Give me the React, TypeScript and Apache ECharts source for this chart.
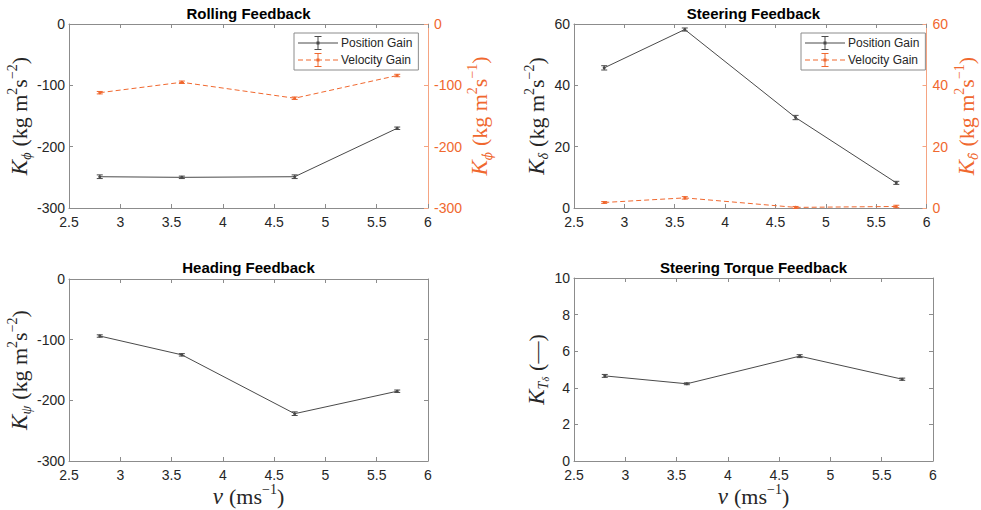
import React, { useEffect, useRef } from 'react';
import * as echarts from 'echarts';

// ---------- data ----------
const speeds = [2.8, 3.6, 4.7, 5.7];

const rollingPosition = [-249, -250, -249, -170];
const rollingPositionErr = [3, 2, 3, 2];
const rollingVelocity = [-112, -95, -121, -84];
const rollingVelocityErr = [2, 2, 2, 2];

const steeringPosition = [45.7, 58.2, 29.5, 8.2];
const steeringPositionErr = [0.7, 0.5, 0.7, 0.5];
const steeringVelocity = [1.8, 3.3, 0.2, 0.5];
const steeringVelocityErr = [0.3, 0.4, 0.3, 0.4];

const headingPosition = [-94, -125, -222, -185];
const headingPositionErr = [2, 2, 3, 2];

const torquePosition = [4.65, 4.22, 5.73, 4.47];
const torquePositionErr = [0.08, 0.05, 0.08, 0.06];

const titles = ['Rolling Feedback', 'Steering Feedback', 'Heading Feedback', 'Steering Torque Feedback'];
const legendNames = ['Position Gain', 'Velocity Gain'];

// ---------- styles ----------
const SANS = "'Liberation Sans', Arial, Helvetica, sans-serif";
const SERIF = "'Liberation Serif', 'DejaVu Serif', 'Times New Roman', serif";
const DSERIF = "'DejaVu Serif', serif";
const DARK = '#262626';
const AXIS = '#8c8c8c';
const POS = '#4a4a4a';
const ORANGE = '#f0682f';
const ORANGE_AXIS = '#f5a482';

const grids = [
  { left: 69, top: 24, width: 359, height: 184 },
  { left: 574, top: 24, width: 359, height: 184 },
  { left: 69, top: 279, width: 359, height: 182 },
  { left: 574, top: 278, width: 359, height: 183 },
];

const richFor = (color: string) => ({
  k: { fontFamily: SERIF, fontStyle: 'italic', fontSize: 23, color, lineHeight: 28 },
  sub: { fontFamily: SERIF, fontStyle: 'italic', fontSize: 14, color, verticalAlign: 'bottom' },
  subd: { fontFamily: DSERIF, fontStyle: 'italic', fontSize: 12, color, verticalAlign: 'bottom' },
  subsub: { fontFamily: SERIF, fontStyle: 'italic', fontSize: 10, color, verticalAlign: 'bottom' },
  r: { fontFamily: SERIF, fontSize: 22, color, lineHeight: 28 },
  sp: { fontFamily: SERIF, fontSize: 22, color, lineHeight: 28, width: 6 },
  sup: { fontFamily: SERIF, fontSize: 14, color, verticalAlign: 'top' },
});

const POS_ICON =
  'path://M0,6.5h40v1h-40z M19.5,0.5h1v13h-1z M16.5,0h7v1h-7z M16.5,13h7v1h-7z M18.5,5.5h3v3h-3z';
const VEL_ICON =
  'path://M0,6.5h5v1h-5z M8,6.5h5v1h-5z M16,6.5h8v1h-8z M27,6.5h5v1h-5z M35,6.5h5v1h-5z M19.5,0.5h1v13h-1z M16.5,0h7v1h-7z M16.5,13h7v1h-7z M18.5,5.5h3v3h-3z';

function xAxes(gi: number, withName: boolean) {
  const base = {
    gridIndex: gi,
    type: 'value',
    min: 2.5,
    max: 6,
    interval: 0.5,
    splitLine: { show: false },
    axisLine: { onZero: false, lineStyle: { color: AXIS, width: 1 } },
    axisTick: { inside: true, length: 4, lineStyle: { color: AXIS } },
  };
  return [
    {
      ...base,
      position: 'bottom',
      axisLabel: { color: DARK, fontSize: 14, fontFamily: SANS, margin: 7 },
      name: withName ? '{k|v}{sp| }{r|(ms}{sup|−1}{r|)}' : '',
      nameLocation: 'middle',
      nameGap: 13,
      nameTextStyle: { rich: richFor(DARK) },
    },
    { ...base, position: 'top', axisLabel: { show: false } },
  ];
}

function yAxis(gi: number, min: number, max: number, interval: number, position: string, opts: any) {
  return {
    gridIndex: gi,
    type: 'value',
    position,
    min,
    max,
    interval,
    splitLine: { show: false },
    axisLine: { show: true, onZero: false, lineStyle: { color: opts.axisColor, width: 1 } },
    axisTick: { show: true, inside: true, length: 4, lineStyle: { color: opts.axisColor } },
    axisLabel: opts.label
      ? { color: opts.labelColor, fontSize: 14, fontFamily: SANS, margin: position === 'left' ? 4 : 6 }
      : { show: false },
    name: opts.name || '',
    nameLocation: 'middle',
    nameRotate: 90,
    nameGap: opts.nameGap || 0,
    nameTextStyle: { rich: richFor(opts.labelColor) },
  };
}

function lineSeries(name: string, gi: number, yi: number, vals: number[], color: string, dashed: boolean) {
  return {
    type: 'line',
    name,
    xAxisIndex: gi * 2,
    yAxisIndex: yi,
    data: speeds.map((x, j) => [x, vals[j]]),
    symbol: 'circle',
    symbolSize: 3,
    itemStyle: { color },
    lineStyle: { color, width: 1, type: dashed ? [5, 3] : 'solid' },
    z: 3,
  };
}

function errSeries(gi: number, yi: number, vals: number[], errs: number[], color: string) {
  return {
    type: 'custom',
    name: 'err' + gi + '-' + yi,
    xAxisIndex: gi * 2,
    yAxisIndex: yi,
    silent: true,
    z: 4,
    data: speeds.map((x, j) => [x, vals[j], errs[j]]),
    encode: { x: 0, y: 1 },
    renderItem: (params: any, api: any) => {
      const x = api.value(0);
      const y = api.value(1);
      const e = api.value(2);
      const hi = api.coord([x, y + e]);
      const lo = api.coord([x, y - e]);
      const w = 3;
      const style = { stroke: color, lineWidth: 1 };
      return {
        type: 'group',
        children: [
          { type: 'line', shape: { x1: hi[0], y1: hi[1], x2: lo[0], y2: lo[1] }, style },
          { type: 'line', shape: { x1: hi[0] - w, y1: hi[1], x2: hi[0] + w, y2: hi[1] }, style },
          { type: 'line', shape: { x1: lo[0] - w, y1: lo[1], x2: lo[0] + w, y2: lo[1] }, style },
        ],
      };
    },
  };
}

function buildOption() {
  const title = titles.map((t, i) => ({
    text: t,
    left: grids[i].left + grids[i].width / 2,
    top: i < 2 ? 6 : 260,
    textAlign: 'center',
    padding: 0,
    textStyle: { fontSize: 15, fontWeight: 'bold', color: '#000', fontFamily: SANS },
  }));

  const xAxis = [
    ...xAxes(0, false),
    ...xAxes(1, false),
    ...xAxes(2, true),
    ...xAxes(3, true),
  ];

  const yAxisList = [
    yAxis(0, -300, 0, 100, 'left', {
      axisColor: AXIS, labelColor: DARK, label: true, nameGap: 33,
      name: '{k|K}{sub|ϕ}{sp| }{r|(kg m}{sup|2}{r|s}{sup|−2}{r|)}',
    }),
    yAxis(0, -300, 0, 100, 'right', {
      axisColor: ORANGE_AXIS, labelColor: ORANGE, label: true, nameGap: 33,
      name: '{k|K}{subd|ϕ̇}{sp| }{r|(kg m}{sup|2}{r|s}{sup|−1}{r|)}',
    }),
    yAxis(1, 0, 60, 20, 'left', {
      axisColor: AXIS, labelColor: DARK, label: true, nameGap: 22,
      name: '{k|K}{sub|δ}{sp| }{r|(kg m}{sup|2}{r|s}{sup|−2}{r|)}',
    }),
    yAxis(1, 0, 60, 20, 'right', {
      axisColor: ORANGE_AXIS, labelColor: ORANGE, label: true, nameGap: 24,
      name: '{k|K}{subd|δ̇}{sp| }{r|(kg m}{sup|2}{r|s}{sup|−1}{r|)}',
    }),
    yAxis(2, -300, 0, 100, 'left', {
      axisColor: AXIS, labelColor: DARK, label: true, nameGap: 36,
      name: '{k|K}{sub|ψ}{sp| }{r|(kg m}{sup|2}{r|s}{sup|−2}{r|)}',
    }),
    yAxis(2, -300, 0, 100, 'right', { axisColor: AXIS, labelColor: DARK, label: false }),
    yAxis(3, 0, 10, 2, 'left', {
      axisColor: AXIS, labelColor: DARK, label: true, nameGap: 14,
      name: '{k|K}{sub|T}{subsub|δ}{sp| }{r|(—)}',
    }),
    yAxis(3, 0, 10, 2, 'right', { axisColor: AXIS, labelColor: DARK, label: false }),
  ];

  const series = [
    lineSeries(legendNames[0], 0, 0, rollingPosition, POS, false),
    errSeries(0, 0, rollingPosition, rollingPositionErr, POS),
    lineSeries(legendNames[1], 0, 1, rollingVelocity, ORANGE, true),
    errSeries(0, 1, rollingVelocity, rollingVelocityErr, ORANGE),
    lineSeries(legendNames[0], 1, 2, steeringPosition, POS, false),
    errSeries(1, 2, steeringPosition, steeringPositionErr, POS),
    lineSeries(legendNames[1], 1, 3, steeringVelocity, ORANGE, true),
    errSeries(1, 3, steeringVelocity, steeringVelocityErr, ORANGE),
    lineSeries('Heading Gain', 2, 4, headingPosition, POS, false),
    errSeries(2, 4, headingPosition, headingPositionErr, POS),
    lineSeries('Torque Gain', 3, 6, torquePosition, POS, false),
    errSeries(3, 6, torquePosition, torquePositionErr, POS),
  ];

  const legendBase = {
    orient: 'vertical',
    top: 33,
    itemWidth: 40,
    itemHeight: 14,
    itemGap: 3,
    padding: [3, 6, 3, 4],
    borderColor: AXIS,
    borderWidth: 1,
    backgroundColor: '#fff',
    selectedMode: false,
    itemStyle: { borderWidth: 0 },
    textStyle: { fontSize: 12, color: DARK, fontFamily: SANS, padding: [0, 0, 0, -2] },
    data: [
      { name: legendNames[0], icon: POS_ICON },
      { name: legendNames[1], icon: VEL_ICON },
    ],
  };

  return {
    animation: false,
    backgroundColor: '#fff',
    title,
    grid: grids.map((g) => ({ ...g, containLabel: false })),
    xAxis,
    yAxis: yAxisList,
    legend: [
      { ...legendBase, left: 294 },
      { ...legendBase, left: 801 },
    ],
    series,
  };
}

export default function App() {
  const ref = useRef<HTMLDivElement>(null);
  useEffect(() => {
    if (!ref.current) return;
    const chart = echarts.init(ref.current, undefined, { renderer: 'svg' });
    chart.setOption(buildOption() as any);
    return () => chart.dispose();
  }, []);
  return (
    <div
      ref={ref}
      style={{ position: 'fixed', left: 0, top: 0, width: 981, height: 510, background: '#fff' }}
    />
  );
}
